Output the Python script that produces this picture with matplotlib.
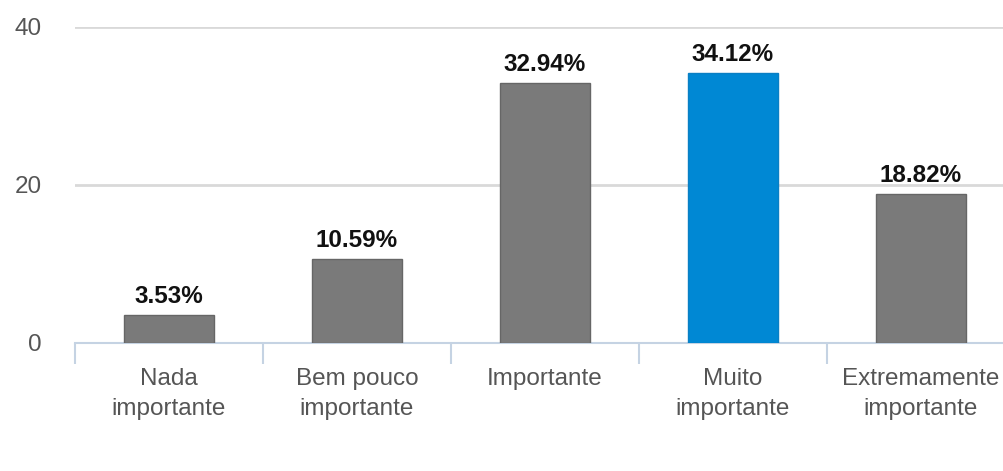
import matplotlib.pyplot as plt
from matplotlib.ticker import FixedLocator

categories = ['Nada\nimportante', 'Bem pouco\nimportante', 'Importante',
              'Muito\nimportante', 'Extremamente\nimportante']
values = [3.53, 10.59, 32.94, 34.12, 18.82]
labels = ['3.53%', '10.59%', '32.94%', '34.12%', '18.82%']
colors = ['#7a7a7a', '#7a7a7a', '#7a7a7a', '#0088d4', '#7a7a7a']
edges = ['#666666', '#666666', '#666666', '#0a7fc4', '#666666']

plt.rcParams['font.family'] = ['Liberation Sans', 'DejaVu Sans']

fig = plt.figure(figsize=(10.04, 4.71), dpi=100)
ax = fig.add_axes([0.0747, 0.2718, 0.936, 0.671])

x = range(len(categories))
bars = ax.bar(x, values, width=0.48, color=colors, edgecolor=edges,
              linewidth=1, zorder=3)

for b, lab in zip(bars, labels):
    ax.annotate(lab, (b.get_x() + b.get_width() / 2, b.get_height()),
                xytext=(0, 5), textcoords='offset points', ha='center',
                va='bottom', fontsize=17.5, fontweight='bold', color='#111111')

ax.set_xlim(-0.5, 4.5)
ax.set_ylim(0, 40)
ax.set_yticks([0, 20, 40])
ax.yaxis.grid(True, color='#d9d9d9', linewidth=2)
ax.set_axisbelow(True)

ax.set_xticks(list(x))
ax.set_xticklabels(categories, fontsize=17.5, color='#555555', linespacing=1.45)
ax.xaxis.set_minor_locator(FixedLocator([-0.5, 0.5, 1.5, 2.5, 3.5, 4.5]))
ax.tick_params(axis='x', which='major', length=0, pad=18)
ax.tick_params(axis='x', which='minor', length=15, width=1.5, color='#c5d3e3')
ax.tick_params(axis='y', length=0, pad=24, labelsize=17.5, labelcolor='#555555')

for s in ['top', 'right', 'left']:
    ax.spines[s].set_visible(False)
ax.spines['bottom'].set_color('#c5d3e3')
ax.spines['bottom'].set_linewidth(1.5)

plt.savefig('out.png', dpi=100)
